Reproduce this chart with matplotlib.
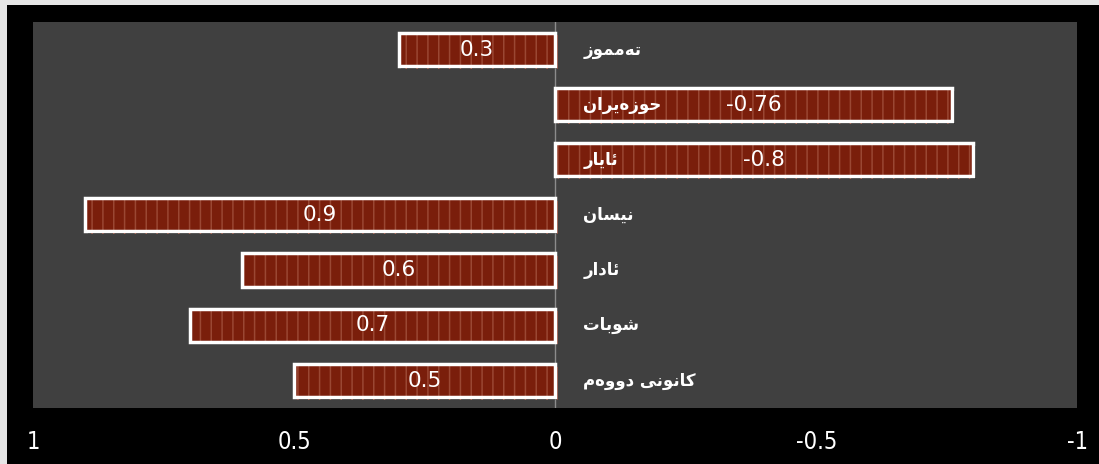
import matplotlib
matplotlib.use("Agg")
import matplotlib.pyplot as plt
from matplotlib.patches import Rectangle
import matplotlib.patheffects as pe

# ---- data (top-to-bottom order in the picture) ----
months = ["تەمموز", "حوزەیران", "ئایار", "نیسان", "ئادار", "شوبات", "کانونی دووەم"]
values = [0.3, -0.76, -0.8, 0.9, 0.6, 0.7, 0.5]
xticks = [1, 0.5, 0, -0.5, -1]
xtick_labels = ["1", "0.5", "0", "-0.5", "-1"]

# ---- minimal Arabic-script shaping (matplotlib 3.10 has no shaping/bidi) ----
FORMS = {  # isolated, final, initial, medial
    "\u0627": ("\uFE8D", "\uFE8E", None, None),
    "\u0628": ("\uFE8F", "\uFE90", "\uFE91", "\uFE92"),
    "\u062A": ("\uFE95", "\uFE96", "\uFE97", "\uFE98"),
    "\u062D": ("\uFEA1", "\uFEA2", "\uFEA3", "\uFEA4"),
    "\u062F": ("\uFEA9", "\uFEAA", None, None),
    "\u0631": ("\uFEAD", "\uFEAE", None, None),
    "\u0632": ("\uFEAF", "\uFEB0", None, None),
    "\u0633": ("\uFEB1", "\uFEB2", "\uFEB3", "\uFEB4"),
    "\u0634": ("\uFEB5", "\uFEB6", "\uFEB7", "\uFEB8"),
    "\u0645": ("\uFEE1", "\uFEE2", "\uFEE3", "\uFEE4"),
    "\u0646": ("\uFEE5", "\uFEE6", "\uFEE7", "\uFEE8"),
    "\u0648": ("\uFEED", "\uFEEE", None, None),
    "\u0626": ("\uFE89", "\uFE8A", "\uFE8B", "\uFE8C"),
    "\u06CC": ("\uFBFC", "\uFBFD", "\uFBFE", "\uFBFF"),
    "\u06A9": ("\uFB8E", "\uFB8F", "\uFB90", "\uFB91"),
    "\u06D5": ("\uFEE9", "\uFEEA", None, None),
}


def shape(text):
    out = []
    for i, c in enumerate(text):
        if c not in FORMS:
            out.append(c)
            continue
        prev = text[i - 1] if i > 0 else None
        nxt = text[i + 1] if i + 1 < len(text) else None
        jp = prev in FORMS and FORMS[prev][2] is not None
        jn = FORMS[c][2] is not None and nxt in FORMS
        iso, fin, ini, med = FORMS[c]
        if jp and jn:
            g = med
        elif jp:
            g = fin
        elif jn:
            g = ini
        else:
            g = iso
        out.append(g)
    return "".join(reversed(out))


DPI = 130
k = 100 / DPI  # convert sizes designed at 100 dpi

plt.rcParams["hatch.linewidth"] = 1.1 * k
plt.rcParams["hatch.color"] = "#9a4733"

W, H = 1099, 464
fig = plt.figure(figsize=((W + 0.3) / DPI, (H + 0.3) / DPI), dpi=DPI)
fig.patch.set_facecolor("#e6e6e6")
fig.add_artist(Rectangle((7 / W, 0), 1, 1 - 5 / H, transform=fig.transFigure,
                         facecolor="black", edgecolor="none", zorder=0))

ax = fig.add_axes([33 / W, 1 - 408 / H, (1077 - 33) / W, (408 - 22) / H])
ax.set_facecolor("#404040")
for s in ax.spines.values():
    s.set_visible(False)

ypos = list(range(len(months)))[::-1]

ax.axvline(0, color="#8c8c8c", lw=1.0 * k, zorder=1)

bars = ax.barh(ypos, values, height=0.6, color="#7a1e0b", hatch="||",
               edgecolor="#9a4733", linewidth=0, zorder=2,
               path_effects=[pe.withSimplePatchShadow(offset=(1.5, -1.5),
                                                      shadow_rgbFace="#000000",
                                                      alpha=0.4)])
ax.barh(ypos, values, height=0.6, fill=False, edgecolor="white",
        linewidth=2.5 * k, zorder=3)

ax.bar_label(bars, labels=[f"{v:g}" for v in values], label_type="center",
             color="white", fontsize=15.5 * k, family="DejaVu Sans", zorder=4)

for y, m in zip(ypos, months):
    ax.annotate(shape(m), xy=(0, y), xytext=(28, 0), textcoords="offset pixels",
                ha="left", va="center", color="white", fontsize=12 * k,
                fontweight="bold", family=["DejaVu Sans"], zorder=5)

ax.set_xlim(1, -1)
ax.set_ylim(-0.5, 6.5)
ax.set_yticks([])
ax.set_xticks(xticks)
ax.set_xticklabels(xtick_labels, color="white", fontsize=17 * k,
                   family=["DejaVu Sans"], fontstretch="condensed")
ax.tick_params(axis="x", length=0, pad=16 * k)

fig.savefig("out.png", dpi=DPI, facecolor=fig.get_facecolor())
